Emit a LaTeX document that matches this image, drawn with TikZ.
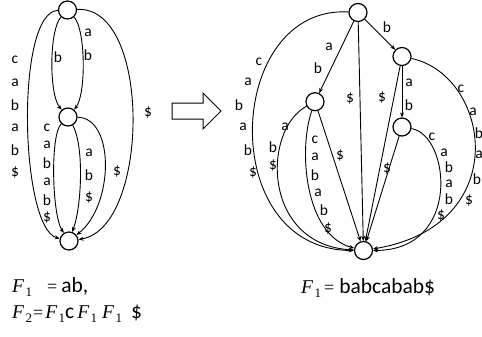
\documentclass[tikz,border=0pt]{standalone}
\usepackage{fontspec}
\setmainfont{Carlito}
\newfontfamily\tms{Liberation Serif}
\usetikzlibrary{arrows.meta}
\newcommand\lbset[2]{\foreach \px/\py/\tx [count=\i] in {#2} {\node[lbl] (#1-\i) at (\px,\py) {\tx};}}
\newcommand\Fsub[1]{{\tms\fontsize{19.5}{19.5}\selectfont\itshape F\kern1.5pt\raisebox{-4pt}{\upshape\fontsize{13}{13}\selectfont #1}}}
\newcommand\Eq{{\tms\fontsize{18}{18}\selectfont =}}
\begin{document}
\begin{tikzpicture}[x=1pt,y=-1pt,
  st/.style={circle, draw, line width=1.2pt, minimum size=18pt, inner sep=0pt},
  ed/.style={line width=0.9pt, -{Stealth[length=5pt,width=4pt]}},
  lbl/.style={font=\fontsize{15.5}{15.5}\selectfont, inner sep=0pt, anchor=center},
  txt/.style={font=\fontsize{21.5}{21.5}\selectfont, inner sep=0pt, anchor=base west}]
\useasboundingbox (0,0) rectangle (482,337);
% ---- left graph
\node[st] (L0) at (67.5,10) {};
\node[st] (L1) at (68,117) {};
\node[st] (L2) at (69,241) {};
\draw[ed] (L0) .. controls (49,30) and (49,95) .. (L1);
\draw[ed] (L0) .. controls (86,30) and (86,95) .. (L1);
\draw[ed] (L0) .. controls (15,12) and (20,228) .. (L2);
\draw[ed] (L0) .. controls (152,5) and (150,228) .. (L2);
\draw[ed] (L1) .. controls (50,135) and (52,215) .. (L2);
\draw[ed] (L1) .. controls (84,145) and (82,205) .. (L2);
\draw[ed] (L1) .. controls (115,118) and (114,205) .. (L2);
\lbset{la}{58/57/b}
\lbset{lb}{88/33/a, 88/55/b}
\lbset{lc}{15/60/c, 15/83/a, 15/105/b, 15/128/a, 15/150/b, 15/172/\$}
\lbset{ld}{148/112/\$}
\lbset{le}{47/128/c, 47/145/a, 47/163/b, 47/182/a, 47/200/b, 47/217/\$}
\lbset{lf}{89/153/a, 89/175/b, 89/197/\$}
\lbset{lg}{117/171/\$}
% ---- block arrow
\draw[line width=1pt] (172,103) -- (203,103) -- (203,93) -- (221,111) -- (203,129) -- (203,119) -- (172,119) -- cycle;
% ---- right graph
\node[st] (R0) at (358,12.5) {};
\node[st] (R1) at (402,56.5) {};
\node[st] (R2) at (315,101.7) {};
\node[st] (R3) at (402,127) {};
\node[st] (R4) at (363.5,250.5) {};
\draw[ed] (R0) -- (R1);
\draw[ed] (R0) -- (R2);
\draw[ed] (R0) -- (R4);
\draw[ed] (R1) -- (R4);
\draw[ed] (R1) -- (R3);
\draw[ed] (R2) -- (R4);
\draw[ed] (R3) -- (R4);
\draw[ed] (R0) .. controls (225,5) and (215,250) .. (R4);
\draw[ed] (R1) .. controls (490,75) and (515,225) .. (R4);
\draw[ed] (R2) .. controls (262,130) and (262,245) .. (R4);
\draw[ed] (R2) .. controls (298,150) and (305,235) .. (R4);
\draw[ed] (R3) .. controls (450,135) and (462,250) .. (R4);
\lbset{ra}{387/27/b}
\lbset{rb}{329/47/a, 318/68/b}
\lbset{rc}{350/98/\$}
\lbset{rd}{382/97/\$}
\lbset{re}{409/83/a, 409/105/b}
\lbset{rf}{340/155/\$}
\lbset{rg}{387/168/\$}
\lbset{rh}{259/62/c, 248/82/a, 239/105/b, 243/127/a, 248/150/b, 253/172/\$}
\lbset{ri}{461/89/c, 473/112/a, 479/133/b, 479/155/a, 477/179/b, 469/200/\$}
\lbset{rj}{285/127/a, 273/147/b, 273/165/\$}
\lbset{rk}{315/140/c, 315/157/a, 315/175/b, 318/193/a, 324/210/b, 328/228/\$}
\lbset{rl}{432/137/c, 444/153/a, 449/167.5/b, 449/183.5/a, 449/199/b, 441/215/\$}
% ---- texts
\node[txt] (t1) at (12,292.7) {\Fsub{1}\hspace{15pt}\Eq\hspace{4pt}ab,};
\node[txt] (t2) at (12,318.3) {\Fsub{2}\hspace{1pt}\Eq\hspace{2pt}\Fsub{1}c\hspace{3pt}\Fsub{1}\hspace{5pt}\Fsub{1}\hspace{9pt}\$};
\node[txt] (t3) at (301,293.3) {\Fsub{1}\hspace{3pt}\Eq\hspace{5pt}babcabab\$};
\end{tikzpicture}
\end{document}
